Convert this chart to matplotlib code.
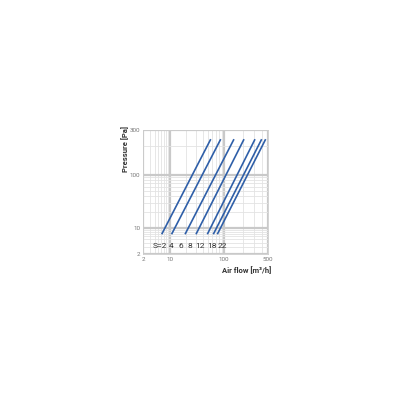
import matplotlib
matplotlib.use("Agg")
import matplotlib.pyplot as plt
import numpy as np
from matplotlib.ticker import FixedLocator, NullFormatter

# settings S and their straight lines (airflow m3/h, pressure Pa)
settings = ["S=2", "4", "6", "8", "12", "18", "22"]
flow_low = [6.1, 10.7, 19.0, 30.3, 49.1, 63.4, 75.2]
flow_high = [56.8, 86.9, 144, 208, 311, 397, 459]
p_low = 6.8
p_high = 238
label_x = [5.5, 10.7, 16, 23.8, 36, 60.7, 93]
label_y = 3.3

x_ticks = [2, 10, 100, 500]
y_ticks = [2, 10, 100, 300]
x_minor = [3, 4, 5, 6, 7, 8, 9, 20, 30, 40, 50, 60, 70, 80, 90, 200, 300, 400]
y_minor = [3, 4, 5, 6, 7, 8, 9, 20, 30, 40, 50, 60, 70, 80, 90, 200]

# the printed chart's log axes are stretched unevenly per decade
kx_val = np.log10([2, 10, 100, 500])
kx_pos = np.array([0, 27, 81, 125])
ky_val = np.log10([2, 10, 100, 300])
ky_pos = np.array([0, 26, 79, 124.5])


def make_scale(kv, kp):
    def fwd(v):
        v = np.asarray(v, dtype=float)
        return np.interp(np.log10(np.clip(v, 1e-9, None)), kv, kp)

    def inv(p):
        return 10 ** np.interp(np.asarray(p, dtype=float), kp, kv)

    return fwd, inv


plt.rcParams["font.family"] = ["Roboto", "DejaVu Sans"]

fig = plt.figure(figsize=(4, 4), dpi=100)
ax = fig.add_axes([0.3575, 0.365, 0.3125, 0.311])

ax.set_xscale("function", functions=make_scale(kx_val, kx_pos))
ax.set_yscale("function", functions=make_scale(ky_val, ky_pos))
ax.set_xlim(2, 500)
ax.set_ylim(2, 300)

ax.xaxis.set_major_locator(FixedLocator(x_ticks))
ax.yaxis.set_major_locator(FixedLocator(y_ticks))
ax.xaxis.set_minor_locator(FixedLocator(x_minor))
ax.yaxis.set_minor_locator(FixedLocator(y_minor))
ax.xaxis.set_minor_formatter(NullFormatter())
ax.yaxis.set_minor_formatter(NullFormatter())
ax.set_xticklabels([str(v) for v in x_ticks])
ax.set_yticklabels([str(v) for v in y_ticks])

ax.grid(True, which="minor", color="#e3e3e3", linewidth=0.6)
ax.grid(True, which="major", color="#c9c9c9", linewidth=1.6)
ax.set_axisbelow(True)
ax.tick_params(which="both", length=0, labelsize=4.5, labelcolor="#777777", pad=2)
for sp in ax.spines.values():
    sp.set_color("#cccccc")
    sp.set_linewidth(0.6)

for x0, x1 in zip(flow_low, flow_high):
    ax.plot([x0, x1], [p_low, p_high], color="#2f5fa8", linewidth=1.2,
            solid_capstyle="butt")

for lab, lx in zip(settings, label_x):
    ax.text(lx, label_y, lab, ha="center", va="center", fontsize=6,
            color="#333333")

ax.set_ylabel("Pressure [Pa]", fontsize=5.5, color="#333333", fontweight="bold")
ax.yaxis.set_label_coords(-0.115, 0.845)
ax.set_xlabel("Air flow [m³/h]", fontsize=5.5, color="#333333", fontweight="bold")
ax.xaxis.set_label_coords(0.83, -0.10)

fig.savefig("out.png", dpi=100)
